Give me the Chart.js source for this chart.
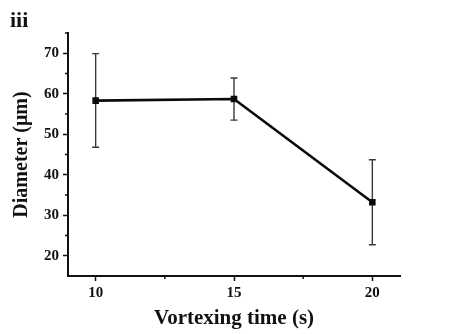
<!DOCTYPE html>
<html>
<head>
<meta charset="utf-8">
<script src="https://cdn.jsdelivr.net/npm/chart.js@4.4.1/dist/chart.umd.min.js"></script>
<style>
  html, body { margin: 0; padding: 0; background: #ffffff; }
  #wrap { width: 461px; height: 334px; position: relative; }
</style>
</head>
<body>
<div id="wrap"><canvas id="c" width="461" height="334"></canvas></div>
<script>
// Vortexing time (s) and mean droplet diameter (µm) with error ranges
const times = [10, 15, 20];
const diameters = [58.3, 58.7, 33.2];
const errLow = [46.8, 53.5, 22.7];
const errHigh = [69.9, 63.9, 43.7];

const xMajorTicks = [10, 15, 20];
const xMinorTicks = [12.5, 17.5];
const yMajorTicks = [20, 30, 40, 50, 60, 70];
const yMinorTicks = [25, 35, 45, 55, 65, 75];

const panelLabel = 'iii';
const serif = '"Liberation Serif", "Times New Roman", serif';

// error bars with caps, drawn from the data through the chart scales
const errorBars = {
  id: 'errorBars',
  beforeDatasetsDraw(chart) {
    const { ctx, scales: { x, y } } = chart;
    ctx.save();
    ctx.strokeStyle = '#3a3a3a';
    ctx.lineWidth = 1.4;
    const cap = 3.5;
    times.forEach((t, i) => {
      const px = x.getPixelForValue(t);
      const top = y.getPixelForValue(errHigh[i]);
      const bot = y.getPixelForValue(errLow[i]);
      ctx.beginPath();
      ctx.moveTo(px, top); ctx.lineTo(px, bot);
      ctx.moveTo(px - cap, top); ctx.lineTo(px + cap, top);
      ctx.moveTo(px - cap, bot); ctx.lineTo(px + cap, bot);
      ctx.stroke();
    });
    ctx.restore();
  }
};

// short minor tick marks and the panel label
const extras = {
  id: 'extras',
  afterDraw(chart) {
    const { ctx, chartArea, scales: { x, y } } = chart;
    ctx.save();
    ctx.strokeStyle = '#111';
    ctx.lineWidth = 1.5;
    ctx.beginPath();
    yMinorTicks.forEach(v => {
      const py = y.getPixelForValue(v);
      ctx.moveTo(chartArea.left, py); ctx.lineTo(chartArea.left - 3, py);
    });
    xMinorTicks.forEach(v => {
      const px = x.getPixelForValue(v);
      ctx.moveTo(px, chartArea.bottom); ctx.lineTo(px, chartArea.bottom + 3);
    });
    ctx.stroke();
    ctx.fillStyle = '#111';
    ctx.font = 'bold 22px ' + serif;
    ctx.textBaseline = 'alphabetic';
    ctx.fillText(panelLabel, 10, 27);
    ctx.restore();
  }
};

new Chart(document.getElementById('c'), {
  type: 'line',
  data: {
    datasets: [{
      data: times.map((t, i) => ({ x: t, y: diameters[i] })),
      borderColor: '#0a0a0a',
      borderWidth: 2.6,
      pointStyle: 'rect',
      pointRadius: 2.8,
      pointBackgroundColor: '#0a0a0a',
      pointBorderColor: '#0a0a0a',
      tension: 0
    }]
  },
  options: {
    responsive: false,
    animation: false,
    layout: { padding: { left: 0, top: 33, right: 61, bottom: 0 } },
    plugins: { legend: { display: false }, tooltip: { enabled: false } },
    scales: {
      x: {
        type: 'linear',
        min: 9, max: 21,
        afterBuildTicks(scale) { scale.ticks = xMajorTicks.map(v => ({ value: v })); },
        afterFit(scale) { scale.height = 58; },
        grid: { drawOnChartArea: false, tickLength: 5, tickWidth: 1.5, tickColor: '#111' },
        border: { color: '#111', width: 2 },
        ticks: { color: '#111', padding: 3, font: { family: serif, size: 15, weight: 'bold' } },
        title: {
          display: true, text: 'Vortexing time (s)', color: '#111',
          font: { family: serif, size: 21, weight: 'bold' },
          padding: { top: 0, bottom: 3 }
        }
      },
      y: {
        min: 15, max: 75,
        afterBuildTicks(scale) { scale.ticks = yMajorTicks.map(v => ({ value: v })); },
        afterFit(scale) { scale.width = 68; },
        grid: { drawOnChartArea: false, tickLength: 5, tickWidth: 1.5, tickColor: '#111' },
        border: { color: '#111', width: 2 },
        ticks: { color: '#111', padding: 4, font: { family: serif, size: 15, weight: 'bold' } },
        title: {
          display: true, text: 'Diameter (μm)', color: '#111',
          font: { family: serif, size: 20, weight: 'bold' },
          padding: { top: 10, bottom: 0 }
        }
      }
    }
  },
  plugins: [errorBars, extras]
});
</script>
</body>
</html>
